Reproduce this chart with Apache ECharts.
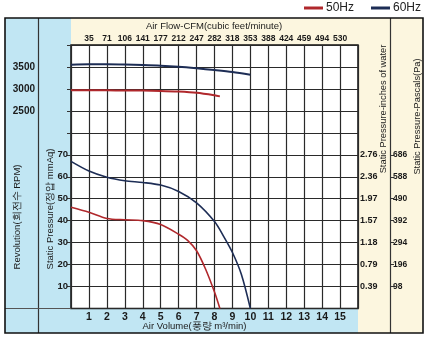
<!DOCTYPE html>
<html>
<head>
<meta charset="utf-8">
<script src="https://cdn.jsdelivr.net/npm/echarts@6/dist/echarts.min.js"></script>
<style>
  html, body { margin: 0; padding: 0; background: #ffffff; }
  #chart { width: 425px; height: 341px; }
</style>
</head>
<body>
<div id="chart"></div>
<script>
// Static pressure (mmAq) against air volume (m³/min)
const flow60 = [0, 1, 2, 3, 4, 5, 6, 7, 8, 8.5, 9, 9.5, 10];
const pres60 = [67, 62.6, 59.8, 58.2, 57.4, 56.2, 53.3, 48.1, 39.6, 33, 25.5, 15.5, 0];
const flow50 = [0, 1, 2, 3, 4, 5, 6, 6.5, 7, 7.5, 8, 8.3];
const pres50 = [46.1, 43.8, 41, 40.4, 40, 38.2, 33.8, 31, 26.3, 18, 7.5, 0];

// Fan speed (RPM) against air volume (m³/min)
const rpmFlow60 = [0, 1, 2, 3, 4, 5, 6, 7, 8, 9, 10];
const rpm60 = [3552, 3560, 3560, 3555, 3545, 3530, 3505, 3470, 3430, 3385, 3325];
const rpmFlow50 = [0, 1, 2, 3, 4, 5, 6, 7, 8, 8.3];
const rpm50 = [2968, 2968, 2967, 2965, 2962, 2955, 2940, 2912, 2855, 2830];

// Tick labels
const volumeTicks = [1, 2, 3, 4, 5, 6, 7, 8, 9, 10, 11, 12, 13, 14, 15];
const cfmLabels = ['35', '71', '106', '141', '177', '212', '247', '282', '318', '353', '388', '424', '459', '494', '530'];
const pressureTicks = [10, 20, 30, 40, 50, 60, 70];
const inchLabels = ['0.39', '0.79', '1.18', '1.57', '1.97', '2.36', '2.76'];
const pascalLabels = ['98', '196', '294', '392', '490', '588', '686'];
const rpmTicks = [2500, 3000, 3500];

const RED = '#b0282c';
const NAVY = '#1d2d55';
const BLUE_BG = '#c1e6f3';
const YELLOW_BG = '#fcf6df';
const INK = '#1a1a1a';
const FONT = 'Liberation Sans, Arial, sans-serif';

const zip = (xs, ys) => xs.map((x, i) => [x, ys[i]]);

const chart = echarts.init(document.getElementById('chart'), null, { renderer: 'canvas' });

const tickText = (size) => ({ fontFamily: FONT, fontSize: size, fontWeight: 'bold', color: INK });

chart.setOption({
  animation: false,
  backgroundColor: '#ffffff',
  legend: {
    data: ['50Hz', '60Hz'],
    right: 4,
    top: 0,
    padding: [2, 0, 2, 0],
    icon: 'rect',
    itemWidth: 19,
    itemHeight: 3,
    itemGap: 17,
    textStyle: { fontFamily: FONT, fontSize: 12, color: '#222', padding: [0, 0, 0, -2] }
  },
  grid: {
    left: 71, right: 67, top: 45, bottom: 32.5,
    show: true,
    backgroundColor: '#ffffff',
    borderColor: '#111111',
    borderWidth: 1.5
  },
  xAxis: [
    {
      type: 'value', position: 'bottom', min: 0, max: 16, interval: 1,
      axisLine: { show: false }, axisTick: { show: false },
      splitLine: { show: true, lineStyle: { color: '#2a2a2a', width: 1.2 } },
      axisLabel: Object.assign({ customValues: volumeTicks, margin: 3 }, tickText(10.5))
    },
    {
      type: 'value', position: 'top', min: 0, max: 16, interval: 1,
      axisLine: { show: false }, axisTick: { show: false }, splitLine: { show: false },
      axisLabel: Object.assign({
        customValues: volumeTicks, margin: 2,
        formatter: v => cfmLabels[volumeTicks.indexOf(Math.round(v))]
      }, tickText(8.5))
    }
  ],
  yAxis: [
    {
      type: 'value', position: 'left', min: 0, max: 120, interval: 10,
      axisLine: { show: false }, axisTick: { show: false },
      splitLine: { show: true, lineStyle: { color: '#2a2a2a', width: 1.2 } },
      axisLabel: Object.assign({ customValues: pressureTicks, margin: 3 }, tickText(9.5))
    },
    {
      type: 'value', position: 'left', offset: 33, min: -2000, max: 4000, interval: 500,
      axisLine: { show: false },
      axisTick: { show: true, length: 4, lineStyle: { color: '#333', width: 1 } },
      splitLine: { show: false },
      axisLabel: Object.assign({
        customValues: rpmTicks, margin: 3,
        formatter: v => String(Math.round(v))
      }, tickText(10))
    },
    {
      type: 'value', position: 'right', min: 0, max: 120, interval: 10,
      axisLine: { show: false }, axisTick: { show: false }, splitLine: { show: false },
      axisLabel: Object.assign({
        customValues: pressureTicks, margin: 2,
        formatter: v => inchLabels[pressureTicks.indexOf(Math.round(v))]
      }, tickText(9))
    },
    {
      type: 'value', position: 'right', offset: 33, min: 0, max: 120, interval: 10,
      axisLine: { show: false },
      axisTick: { show: true, customValues: pressureTicks, length: 3, lineStyle: { color: '#333', width: 1 } },
      splitLine: { show: false },
      axisLabel: Object.assign({
        customValues: pressureTicks, margin: 2,
        formatter: v => pascalLabels[pressureTicks.indexOf(Math.round(v))]
      }, tickText(8.5))
    }
  ],
  series: [
    {
      name: '50Hz', type: 'line', xAxisIndex: 0, yAxisIndex: 1, smooth: 0.3,
      symbol: 'none', data: zip(rpmFlow50, rpm50),
      lineStyle: { color: RED, width: 2 }, itemStyle: { color: RED }, z: 5
    },
    {
      name: '60Hz', type: 'line', xAxisIndex: 0, yAxisIndex: 1, smooth: 0.3,
      symbol: 'none', data: zip(rpmFlow60, rpm60),
      lineStyle: { color: NAVY, width: 2 }, itemStyle: { color: NAVY }, z: 5
    },
    {
      name: '50Hz', type: 'line', xAxisIndex: 0, yAxisIndex: 0, smooth: 0.3,
      symbol: 'none', data: zip(flow50, pres50),
      lineStyle: { color: RED, width: 1.6 }, itemStyle: { color: RED }, z: 5
    },
    {
      name: '60Hz', type: 'line', xAxisIndex: 0, yAxisIndex: 0, smooth: 0.3,
      symbol: 'none', data: zip(flow60, pres60),
      lineStyle: { color: NAVY, width: 1.6 }, itemStyle: { color: NAVY }, z: 5
    }
  ],
  graphic: [
    // panel backgrounds
    { type: 'rect', z: -1, shape: { x: 5, y: 18, width: 66, height: 315 }, style: { fill: BLUE_BG } },
    { type: 'rect', z: -1, shape: { x: 71, y: 308.5, width: 287, height: 24.5 }, style: { fill: BLUE_BG } },
    { type: 'rect', z: -1, shape: { x: 71, y: 18, width: 352, height: 27 }, style: { fill: YELLOW_BG } },
    { type: 'rect', z: -1, shape: { x: 358, y: 45, width: 65, height: 288 }, style: { fill: YELLOW_BG } },
    // panel dividers and outer frame
    { type: 'line', z: 50, shape: { x1: 38.5, y1: 18, x2: 38.5, y2: 333 }, style: { stroke: '#333', lineWidth: 1.2 } },
    { type: 'line', z: 50, shape: { x1: 390.5, y1: 18, x2: 390.5, y2: 333 }, style: { stroke: '#333', lineWidth: 1.2 } },
    { type: 'line', z: 50, shape: { x1: 5, y1: 308.5, x2: 71, y2: 308.5 }, style: { stroke: '#555', lineWidth: 1.2 } },
    { type: 'rect', z: 50, shape: { x: 5, y: 18, width: 418, height: 315 }, style: { fill: null, stroke: '#111', lineWidth: 1.6 } },
    // titles
    {
      type: 'text', z: 60, x: 214, y: 26,
      style: { text: 'Air Flow-CFM(cubic feet/minute)', fontFamily: FONT, fontSize: 9.5, fill: INK, align: 'center', verticalAlign: 'middle' }
    },
    {
      type: 'text', z: 60, x: 194.5, y: 326,
      style: { text: 'Air Volume(풍량 m³/min)', fontFamily: FONT, fontSize: 9.5, fill: INK, align: 'center', verticalAlign: 'middle' }
    },
    {
      type: 'text', z: 60, x: 17, y: 217, rotation: Math.PI / 2,
      style: { text: 'Revolution(회전수 RPM)', fontFamily: FONT, fontSize: 9.5, fill: INK, align: 'center', verticalAlign: 'middle' }
    },
    {
      type: 'text', z: 60, x: 50, y: 209, rotation: Math.PI / 2,
      style: { text: 'Static Pressure(정압 mmAq)', fontFamily: FONT, fontSize: 9.5, fill: INK, align: 'center', verticalAlign: 'middle' }
    },
    {
      type: 'text', z: 60, x: 383, y: 109, rotation: Math.PI / 2,
      style: { text: 'Static Pressure-inches of water', fontFamily: FONT, fontSize: 9.3, fill: INK, align: 'center', verticalAlign: 'middle' }
    },
    {
      type: 'text', z: 60, x: 417.5, y: 116.5, rotation: Math.PI / 2,
      style: { text: 'Static Pressure-Pascals(Pa)', fontFamily: FONT, fontSize: 9.3, fill: INK, align: 'center', verticalAlign: 'middle' }
    }
  ]
});
</script>
</body>
</html>
